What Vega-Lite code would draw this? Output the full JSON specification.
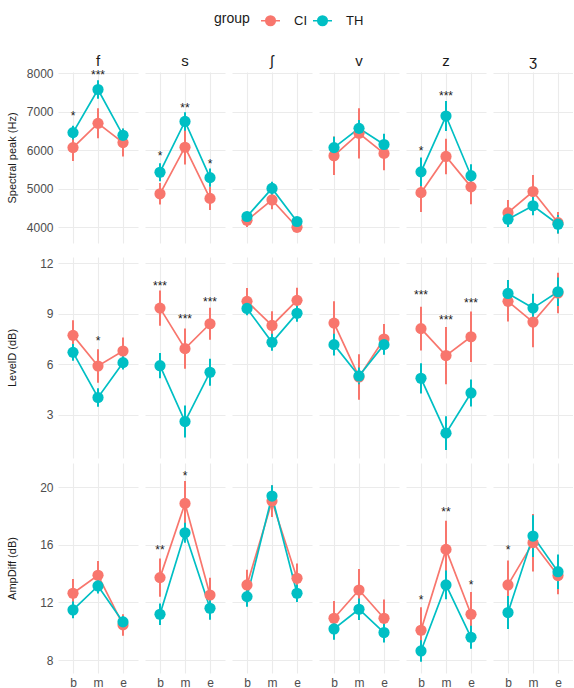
{
  "$schema": "https://vega.github.io/schema/vega-lite/v6.json",
  "background": "white",
  "padding": {"left": 6, "top": 10, "right": 0, "bottom": 0},
  "data": {"values": [
    {"measure":"peak","phon":"f","pos":"b","group":"CI","mean":6070,"lo":5720,"hi":6420},
    {"measure":"peak","phon":"f","pos":"m","group":"CI","mean":6700,"lo":6310,"hi":7090},
    {"measure":"peak","phon":"f","pos":"e","group":"CI","mean":6200,"lo":5840,"hi":6560},
    {"measure":"peak","phon":"s","pos":"b","group":"CI","mean":4870,"lo":4590,"hi":5150},
    {"measure":"peak","phon":"s","pos":"m","group":"CI","mean":6080,"lo":5630,"hi":6530},
    {"measure":"peak","phon":"s","pos":"e","group":"CI","mean":4750,"lo":4450,"hi":5050},
    {"measure":"peak","phon":"ʃ","pos":"b","group":"CI","mean":4180,"lo":4005,"hi":4355},
    {"measure":"peak","phon":"ʃ","pos":"m","group":"CI","mean":4710,"lo":4470,"hi":4950},
    {"measure":"peak","phon":"ʃ","pos":"e","group":"CI","mean":4000,"lo":3900,"hi":4100},
    {"measure":"peak","phon":"v","pos":"b","group":"CI","mean":5860,"lo":5360,"hi":6360},
    {"measure":"peak","phon":"v","pos":"m","group":"CI","mean":6440,"lo":5790,"hi":7090},
    {"measure":"peak","phon":"v","pos":"e","group":"CI","mean":5920,"lo":5480,"hi":6360},
    {"measure":"peak","phon":"z","pos":"b","group":"CI","mean":4900,"lo":4400,"hi":5400},
    {"measure":"peak","phon":"z","pos":"m","group":"CI","mean":5840,"lo":5380,"hi":6300},
    {"measure":"peak","phon":"z","pos":"e","group":"CI","mean":5050,"lo":4600,"hi":5500},
    {"measure":"peak","phon":"ʒ","pos":"b","group":"CI","mean":4380,"lo":4050,"hi":4710},
    {"measure":"peak","phon":"ʒ","pos":"m","group":"CI","mean":4930,"lo":4500,"hi":5360},
    {"measure":"peak","phon":"ʒ","pos":"e","group":"CI","mean":4120,"lo":3840,"hi":4400},
    {"measure":"peak","phon":"f","pos":"b","group":"TH","mean":6460,"lo":6280,"hi":6640},
    {"measure":"peak","phon":"f","pos":"m","group":"TH","mean":7580,"lo":7340,"hi":7820},
    {"measure":"peak","phon":"f","pos":"e","group":"TH","mean":6390,"lo":6215,"hi":6565},
    {"measure":"peak","phon":"s","pos":"b","group":"TH","mean":5430,"lo":5195,"hi":5665},
    {"measure":"peak","phon":"s","pos":"m","group":"TH","mean":6750,"lo":6510,"hi":6990},
    {"measure":"peak","phon":"s","pos":"e","group":"TH","mean":5290,"lo":5050,"hi":5530},
    {"measure":"peak","phon":"ʃ","pos":"b","group":"TH","mean":4280,"lo":4155,"hi":4405},
    {"measure":"peak","phon":"ʃ","pos":"m","group":"TH","mean":5010,"lo":4835,"hi":5185},
    {"measure":"peak","phon":"ʃ","pos":"e","group":"TH","mean":4150,"lo":4045,"hi":4255},
    {"measure":"peak","phon":"v","pos":"b","group":"TH","mean":6070,"lo":5790,"hi":6350},
    {"measure":"peak","phon":"v","pos":"m","group":"TH","mean":6570,"lo":6350,"hi":6790},
    {"measure":"peak","phon":"v","pos":"e","group":"TH","mean":6150,"lo":5870,"hi":6430},
    {"measure":"peak","phon":"z","pos":"b","group":"TH","mean":5440,"lo":5070,"hi":5810},
    {"measure":"peak","phon":"z","pos":"m","group":"TH","mean":6890,"lo":6500,"hi":7280},
    {"measure":"peak","phon":"z","pos":"e","group":"TH","mean":5340,"lo":5040,"hi":5640},
    {"measure":"peak","phon":"ʒ","pos":"b","group":"TH","mean":4210,"lo":4010,"hi":4410},
    {"measure":"peak","phon":"ʒ","pos":"m","group":"TH","mean":4560,"lo":4310,"hi":4810},
    {"measure":"peak","phon":"ʒ","pos":"e","group":"TH","mean":4080,"lo":3840,"hi":4320},
    {"measure":"level","phon":"f","pos":"b","group":"CI","mean":7.73,"lo":6.83,"hi":8.63},
    {"measure":"level","phon":"f","pos":"m","group":"CI","mean":5.91,"lo":4.91,"hi":6.91},
    {"measure":"level","phon":"f","pos":"e","group":"CI","mean":6.80,"lo":6.00,"hi":7.60},
    {"measure":"level","phon":"s","pos":"b","group":"CI","mean":9.35,"lo":8.30,"hi":10.40},
    {"measure":"level","phon":"s","pos":"m","group":"CI","mean":6.94,"lo":5.74,"hi":8.14},
    {"measure":"level","phon":"s","pos":"e","group":"CI","mean":8.42,"lo":7.47,"hi":9.37},
    {"measure":"level","phon":"ʃ","pos":"b","group":"CI","mean":9.75,"lo":8.95,"hi":10.55},
    {"measure":"level","phon":"ʃ","pos":"m","group":"CI","mean":8.32,"lo":7.47,"hi":9.17},
    {"measure":"level","phon":"ʃ","pos":"e","group":"CI","mean":9.81,"lo":9.06,"hi":10.56},
    {"measure":"level","phon":"v","pos":"b","group":"CI","mean":8.46,"lo":7.16,"hi":9.76},
    {"measure":"level","phon":"v","pos":"m","group":"CI","mean":5.26,"lo":3.91,"hi":6.61},
    {"measure":"level","phon":"v","pos":"e","group":"CI","mean":7.51,"lo":6.61,"hi":8.41},
    {"measure":"level","phon":"z","pos":"b","group":"CI","mean":8.13,"lo":6.83,"hi":9.43},
    {"measure":"level","phon":"z","pos":"m","group":"CI","mean":6.53,"lo":4.83,"hi":8.23},
    {"measure":"level","phon":"z","pos":"e","group":"CI","mean":7.65,"lo":6.15,"hi":9.15},
    {"measure":"level","phon":"ʒ","pos":"b","group":"CI","mean":9.75,"lo":8.55,"hi":10.95},
    {"measure":"level","phon":"ʒ","pos":"m","group":"CI","mean":8.52,"lo":7.02,"hi":10.02},
    {"measure":"level","phon":"ʒ","pos":"e","group":"CI","mean":10.25,"lo":9.05,"hi":11.45},
    {"measure":"level","phon":"f","pos":"b","group":"TH","mean":6.72,"lo":6.22,"hi":7.22},
    {"measure":"level","phon":"f","pos":"m","group":"TH","mean":4.04,"lo":3.49,"hi":4.59},
    {"measure":"level","phon":"f","pos":"e","group":"TH","mean":6.11,"lo":5.71,"hi":6.51},
    {"measure":"level","phon":"s","pos":"b","group":"TH","mean":5.93,"lo":5.18,"hi":6.68},
    {"measure":"level","phon":"s","pos":"m","group":"TH","mean":2.61,"lo":1.66,"hi":3.56},
    {"measure":"level","phon":"s","pos":"e","group":"TH","mean":5.54,"lo":4.74,"hi":6.34},
    {"measure":"level","phon":"ʃ","pos":"b","group":"TH","mean":9.33,"lo":8.93,"hi":9.73},
    {"measure":"level","phon":"ʃ","pos":"m","group":"TH","mean":7.32,"lo":6.82,"hi":7.82},
    {"measure":"level","phon":"ʃ","pos":"e","group":"TH","mean":9.04,"lo":8.54,"hi":9.54},
    {"measure":"level","phon":"v","pos":"b","group":"TH","mean":7.18,"lo":6.53,"hi":7.83},
    {"measure":"level","phon":"v","pos":"m","group":"TH","mean":5.32,"lo":4.82,"hi":5.82},
    {"measure":"level","phon":"v","pos":"e","group":"TH","mean":7.18,"lo":6.58,"hi":7.78},
    {"measure":"level","phon":"z","pos":"b","group":"TH","mean":5.18,"lo":4.28,"hi":6.08},
    {"measure":"level","phon":"z","pos":"m","group":"TH","mean":1.92,"lo":0.92,"hi":2.92},
    {"measure":"level","phon":"z","pos":"e","group":"TH","mean":4.31,"lo":3.51,"hi":5.11},
    {"measure":"level","phon":"ʒ","pos":"b","group":"TH","mean":10.22,"lo":9.42,"hi":11.02},
    {"measure":"level","phon":"ʒ","pos":"m","group":"TH","mean":9.35,"lo":8.50,"hi":10.20},
    {"measure":"level","phon":"ʒ","pos":"e","group":"TH","mean":10.32,"lo":9.47,"hi":11.17},
    {"measure":"amp","phon":"f","pos":"b","group":"CI","mean":12.64,"lo":11.64,"hi":13.64},
    {"measure":"amp","phon":"f","pos":"m","group":"CI","mean":13.89,"lo":12.89,"hi":14.89},
    {"measure":"amp","phon":"f","pos":"e","group":"CI","mean":10.44,"lo":9.69,"hi":11.19},
    {"measure":"amp","phon":"s","pos":"b","group":"CI","mean":13.73,"lo":12.40,"hi":15.06},
    {"measure":"amp","phon":"s","pos":"m","group":"CI","mean":18.89,"lo":17.34,"hi":20.44},
    {"measure":"amp","phon":"s","pos":"e","group":"CI","mean":12.52,"lo":11.32,"hi":13.72},
    {"measure":"amp","phon":"ʃ","pos":"b","group":"CI","mean":13.22,"lo":12.17,"hi":14.27},
    {"measure":"amp","phon":"ʃ","pos":"m","group":"CI","mean":19.05,"lo":17.95,"hi":20.15},
    {"measure":"amp","phon":"ʃ","pos":"e","group":"CI","mean":13.68,"lo":12.65,"hi":14.71},
    {"measure":"amp","phon":"v","pos":"b","group":"CI","mean":10.90,"lo":9.70,"hi":12.10},
    {"measure":"amp","phon":"v","pos":"m","group":"CI","mean":12.87,"lo":11.42,"hi":14.32},
    {"measure":"amp","phon":"v","pos":"e","group":"CI","mean":10.90,"lo":9.60,"hi":12.20},
    {"measure":"amp","phon":"z","pos":"b","group":"CI","mean":10.07,"lo":8.47,"hi":11.67},
    {"measure":"amp","phon":"z","pos":"m","group":"CI","mean":15.69,"lo":13.69,"hi":17.69},
    {"measure":"amp","phon":"z","pos":"e","group":"CI","mean":11.18,"lo":9.63,"hi":12.73},
    {"measure":"amp","phon":"ʒ","pos":"b","group":"CI","mean":13.22,"lo":11.52,"hi":14.92},
    {"measure":"amp","phon":"ʒ","pos":"m","group":"CI","mean":16.16,"lo":14.16,"hi":18.16},
    {"measure":"amp","phon":"ʒ","pos":"e","group":"CI","mean":13.87,"lo":12.57,"hi":15.17},
    {"measure":"amp","phon":"f","pos":"b","group":"TH","mean":11.48,"lo":10.90,"hi":12.06},
    {"measure":"amp","phon":"f","pos":"m","group":"TH","mean":13.15,"lo":12.63,"hi":13.67},
    {"measure":"amp","phon":"f","pos":"e","group":"TH","mean":10.65,"lo":10.25,"hi":11.05},
    {"measure":"amp","phon":"s","pos":"b","group":"TH","mean":11.18,"lo":10.43,"hi":11.93},
    {"measure":"amp","phon":"s","pos":"m","group":"TH","mean":16.85,"lo":16.15,"hi":17.55},
    {"measure":"amp","phon":"s","pos":"e","group":"TH","mean":11.60,"lo":10.80,"hi":12.40},
    {"measure":"amp","phon":"ʃ","pos":"b","group":"TH","mean":12.41,"lo":11.71,"hi":13.11},
    {"measure":"amp","phon":"ʃ","pos":"m","group":"TH","mean":19.40,"lo":18.65,"hi":20.15},
    {"measure":"amp","phon":"ʃ","pos":"e","group":"TH","mean":12.64,"lo":12.04,"hi":13.24},
    {"measure":"amp","phon":"v","pos":"b","group":"TH","mean":10.16,"lo":9.41,"hi":10.91},
    {"measure":"amp","phon":"v","pos":"m","group":"TH","mean":11.53,"lo":10.78,"hi":12.28},
    {"measure":"amp","phon":"v","pos":"e","group":"TH","mean":9.91,"lo":9.21,"hi":10.61},
    {"measure":"amp","phon":"z","pos":"b","group":"TH","mean":8.63,"lo":7.88,"hi":9.38},
    {"measure":"amp","phon":"z","pos":"m","group":"TH","mean":13.22,"lo":12.22,"hi":14.22},
    {"measure":"amp","phon":"z","pos":"e","group":"TH","mean":9.58,"lo":8.78,"hi":10.38},
    {"measure":"amp","phon":"ʒ","pos":"b","group":"TH","mean":11.30,"lo":10.15,"hi":12.45},
    {"measure":"amp","phon":"ʒ","pos":"m","group":"TH","mean":16.62,"lo":15.17,"hi":18.07},
    {"measure":"amp","phon":"ʒ","pos":"e","group":"TH","mean":14.14,"lo":12.94,"hi":15.34},
    {"measure":"peak","phon":"f","pos":"b","sig":"*","sy":6960},
    {"measure":"peak","phon":"f","pos":"m","sig":"***","sy":8025},
    {"measure":"peak","phon":"s","pos":"b","sig":"*","sy":5920},
    {"measure":"peak","phon":"s","pos":"m","sig":"**","sy":7180},
    {"measure":"peak","phon":"s","pos":"e","sig":"*","sy":5730},
    {"measure":"peak","phon":"z","pos":"b","sig":"*","sy":6070},
    {"measure":"peak","phon":"z","pos":"m","sig":"***","sy":7480},
    {"measure":"level","phon":"f","pos":"m","sig":"*","sy":7.6},
    {"measure":"level","phon":"s","pos":"b","sig":"***","sy":10.87},
    {"measure":"level","phon":"s","pos":"m","sig":"***","sy":8.88},
    {"measure":"level","phon":"s","pos":"e","sig":"***","sy":9.89},
    {"measure":"level","phon":"z","pos":"b","sig":"***","sy":10.28},
    {"measure":"level","phon":"z","pos":"m","sig":"***","sy":8.84},
    {"measure":"level","phon":"z","pos":"e","sig":"***","sy":9.83},
    {"measure":"amp","phon":"s","pos":"b","sig":"**","sy":15.83},
    {"measure":"amp","phon":"s","pos":"m","sig":"*","sy":20.97},
    {"measure":"amp","phon":"z","pos":"b","sig":"*","sy":12.41},
    {"measure":"amp","phon":"z","pos":"m","sig":"**","sy":18.47},
    {"measure":"amp","phon":"z","pos":"e","sig":"*","sy":13.45},
    {"measure":"amp","phon":"ʒ","pos":"b","sig":"*","sy":15.83}
  ]},
  "spacing": 14,
  "vconcat": [
    {
      "transform": [{"filter": "datum.measure === 'peak'"}],
      "facet": {"column": {"field": "phon", "type": "nominal", "sort": ["f","s","ʃ","v","z","ʒ"], "title": null,
        "header": {"labelFontSize": 15, "labelColor": "#1A1A1A", "labelPadding": 0}}},
      "spacing": 7,
      "spec": {
        "width": 80, "height": 171,
        "encoding": {"x": {"field": "pos", "type": "ordinal", "scale": {"type": "point", "domain": ["b","m","e"], "padding": 0.6},
          "axis": {"title": null, "labels": false, "ticks": false, "domain": false, "grid": true}}},
        "layer": [
          {"transform": [{"filter": "datum.group != null"}], "mark": {"type": "rule", "strokeWidth": 2},
           "encoding": {
             "y": {"field": "lo", "type": "quantitative", "title": "Spectral peak (Hz)", "scale": {"domain": [3592, 8034], "nice": false, "zero": false},
               "axis": {"values": [4000,4500,5000,5500,6000,6500,7000,7500,8000], "format": "d", "labelOverlap": false, "labelExpr": "datum.value % 1000 === 0 ? datum.label : ''",
                 "gridWidth": {"condition": {"test": "datum.value % 1000 === 0", "value": 1.1}, "value": 0.55}}},
             "y2": {"field": "hi"},
             "color": {"field": "group", "type": "nominal", "scale": {"domain": ["CI","TH"], "range": ["#F8766D","#00BFC4"]}}}},
          {"transform": [{"filter": "datum.group != null"}], "mark": {"type": "line", "strokeWidth": 1.7},
           "encoding": {"y": {"field": "mean", "type": "quantitative", "title": "Spectral peak (Hz)"}, "color": {"field": "group", "type": "nominal"}, "order": {"value": null}}},
          {"transform": [{"filter": "datum.group != null"}], "mark": {"type": "point", "filled": true, "size": 125, "opacity": 1},
           "encoding": {"y": {"field": "mean", "type": "quantitative", "title": "Spectral peak (Hz)"},
             "color": {"field": "group", "type": "nominal",
               "legend": {"orient": "none", "legendX": 156, "legendY": -62, "direction": "horizontal", "title": "group", "titleOrient": "left",
                 "encode": {"symbols": {"update": {"fill": {"scale": "color", "field": "value"}, "stroke": {"scale": "color", "field": "value"}, "strokeWidth": {"value": 1.6}, "opacity": {"value": 1}, "fillOpacity": {"value": 1}}}}}}}},
          {"transform": [{"filter": "datum.sig != null"}], "mark": {"type": "text", "fontSize": 12, "dy": 3, "color": "#1A1A1A"},
           "encoding": {"y": {"field": "sy", "type": "quantitative", "title": "Spectral peak (Hz)"}, "text": {"field": "sig"}}}
        ]
      }
    },
    {
      "spacing": 5,
      "vconcat": [
        {
          "transform": [{"filter": "datum.measure === 'level'"}],
          "facet": {"column": {"field": "phon", "type": "nominal", "sort": ["f","s","ʃ","v","z","ʒ"], "title": null, "header": {"labels": false}}},
          "spacing": 7,
          "spec": {
            "width": 80, "height": 201,
            "encoding": {"x": {"field": "pos", "type": "ordinal", "scale": {"type": "point", "domain": ["b","m","e"], "padding": 0.6},
              "axis": {"title": null, "labels": false, "ticks": false, "domain": false, "grid": true}}},
            "layer": [
              {"transform": [{"filter": "datum.group != null"}], "mark": {"type": "rule", "strokeWidth": 2},
               "encoding": {
                 "y": {"field": "lo", "type": "quantitative", "title": "LevelD (dB)", "scale": {"domain": [0.445, 12.386], "nice": false, "zero": false},
                   "axis": {"values": [3,6,9,12], "format": "d", "labelOverlap": false, "labels": true, "gridWidth": 1.1}},
                 "y2": {"field": "hi"},
                 "color": {"field": "group", "type": "nominal"}}},
              {"transform": [{"filter": "datum.group != null"}], "mark": {"type": "line", "strokeWidth": 1.7},
               "encoding": {"y": {"field": "mean", "type": "quantitative", "title": "LevelD (dB)"}, "color": {"field": "group", "type": "nominal"}, "order": {"value": null}}},
              {"transform": [{"filter": "datum.group != null"}], "mark": {"type": "point", "filled": true, "size": 125, "opacity": 1},
               "encoding": {"y": {"field": "mean", "type": "quantitative", "title": "LevelD (dB)"}, "color": {"field": "group", "type": "nominal"}}},
              {"transform": [{"filter": "datum.sig != null"}], "mark": {"type": "text", "fontSize": 12, "dy": 3, "color": "#1A1A1A"},
               "encoding": {"y": {"field": "sy", "type": "quantitative", "title": "LevelD (dB)"}, "text": {"field": "sig"}}}
            ]
          }
        },
        {
          "transform": [{"filter": "datum.measure === 'amp'"}],
          "facet": {"column": {"field": "phon", "type": "nominal", "sort": ["f","s","ʃ","v","z","ʒ"], "title": null, "header": {"labels": false}}},
          "spacing": 7,
          "spec": {
            "width": 80, "height": 210,
            "encoding": {"x": {"field": "pos", "type": "ordinal", "scale": {"type": "point", "domain": ["b","m","e"], "padding": 0.6},
              "axis": {"title": null, "labels": true, "ticks": false, "domain": false, "grid": true, "labelAngle": 0, "labelPadding": 4}}},
            "layer": [
              {"transform": [{"filter": "datum.group != null"}], "mark": {"type": "rule", "strokeWidth": 2},
               "encoding": {
                 "y": {"field": "lo", "type": "quantitative", "title": "AmpDiff (dB)", "scale": {"domain": [7.096, 21.70], "nice": false, "zero": false},
                   "axis": {"values": [8,10,12,14,16,18,20], "labelOverlap": false, "labelExpr": "datum.value % 4 === 0 ? datum.label : ''",
                     "gridWidth": {"condition": {"test": "datum.value % 4 === 0", "value": 1.1}, "value": 0.55}}},
                 "y2": {"field": "hi"},
                 "color": {"field": "group", "type": "nominal"}}},
              {"transform": [{"filter": "datum.group != null"}], "mark": {"type": "line", "strokeWidth": 1.7},
               "encoding": {"y": {"field": "mean", "type": "quantitative", "title": "AmpDiff (dB)"}, "color": {"field": "group", "type": "nominal"}, "order": {"value": null}}},
              {"transform": [{"filter": "datum.group != null"}], "mark": {"type": "point", "filled": true, "size": 125, "opacity": 1},
               "encoding": {"y": {"field": "mean", "type": "quantitative", "title": "AmpDiff (dB)"}, "color": {"field": "group", "type": "nominal"}}},
              {"transform": [{"filter": "datum.sig != null"}], "mark": {"type": "text", "fontSize": 12, "dy": 3, "color": "#1A1A1A"},
               "encoding": {"y": {"field": "sy", "type": "quantitative", "title": "AmpDiff (dB)"}, "text": {"field": "sig"}}}
            ]
          }
        }
      ]
    }
  ],
  "config": {
    "font": "Liberation Sans",
    "view": {"stroke": null},
    "axis": {"gridColor": "#EBEBEB", "gridWidth": 1.1, "labelColor": "#4D4D4D", "labelFontSize": 12, "titleFontSize": 11, "titleFontWeight": "normal", "titleColor": "#1A1A1A", "labelOverlap": false},
    "axisY": {"domain": false, "ticks": false, "labelPadding": 5, "minExtent": 40, "maxExtent": 40, "titleX": -41},
    "legend": {"titleFontSize": 14, "titleFontWeight": "normal", "titleColor": "#1A1A1A", "titlePadding": 10, "labelFontSize": 13, "labelColor": "#1A1A1A", "labelOffset": 13, "columnPadding": 2,
      "symbolType": "M-1,0L1,0M-0.5,0A0.5,0.5,0,1,1,0.5,0A0.5,0.5,0,1,1,-0.5,0Z", "symbolSize": 361, "symbolStrokeWidth": 1.6}
  }
}
